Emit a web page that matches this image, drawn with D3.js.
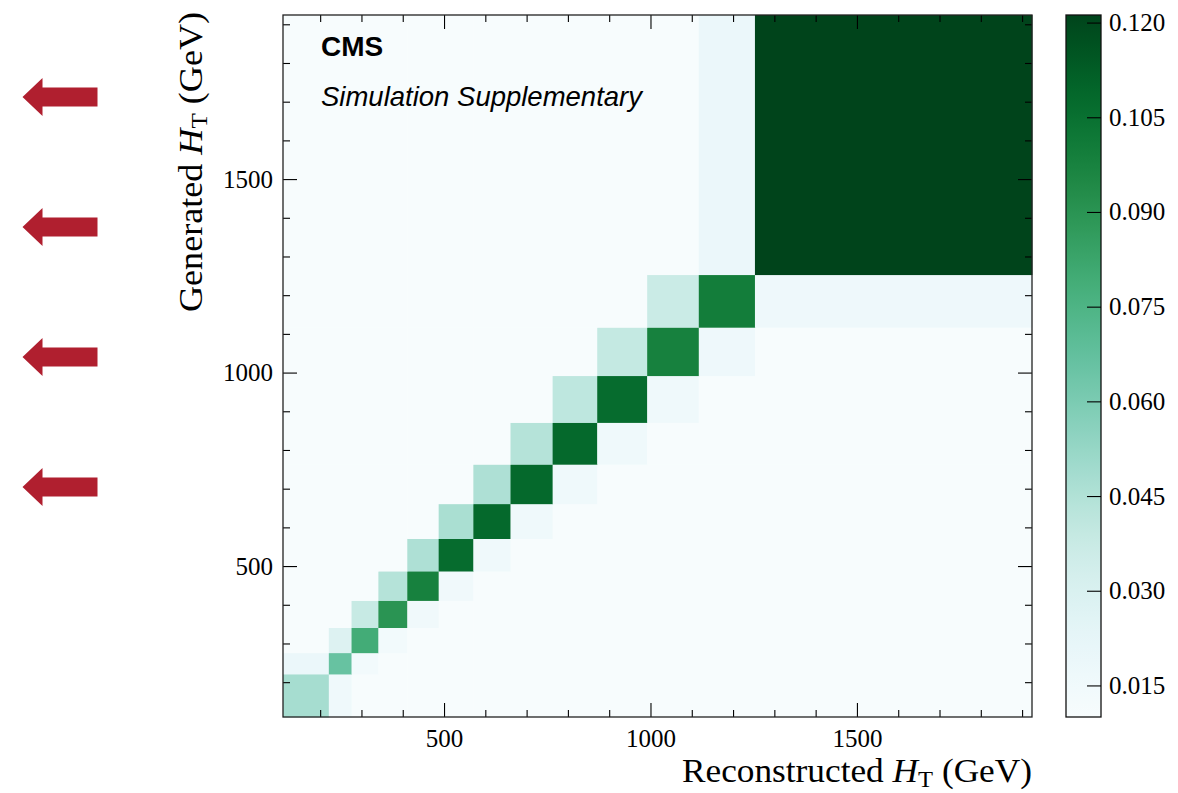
<!DOCTYPE html>
<html>
<head>
<meta charset="utf-8">
<script src="https://cdn.jsdelivr.net/npm/d3@7"></script>
<style>
  body { margin: 0; background: #fff; }
  svg { display: block; }
</style>
</head>
<body>
<div id="plot"></div>
<script>
// Bin edges (GeV), shared by reconstructed (x) and generated (y) H_T
const binEdges = [110, 221, 276, 341, 411, 487, 571, 661, 763, 871, 992, 1117, 1253, 1924];

// Migration matrix
const diagonal     = [0.048, 0.066, 0.079, 0.090, 0.098, 0.107, 0.108, 0.108, 0.108, 0.107, 0.098, 0.100, 0.1212];
const recoBelowGen = [0.019, 0.028, 0.038, 0.044, 0.046, 0.047, 0.046, 0.044, 0.041, 0.039, 0.037, 0.019]; // gen bin i+1, reco bin i
const recoAboveGen = [0.016, 0.014, 0.014, 0.015, 0.015, 0.016, 0.016, 0.016, 0.016, 0.016, 0.017, 0.017]; // gen bin i, reco bin i+1
const floorValue = 0.0100;

const majorTicks = [500, 1000, 1500];
const colorTicks = [0.015, 0.030, 0.045, 0.060, 0.075, 0.090, 0.105, 0.120];
const arrowRows = [97, 227, 357, 487];

// build the cell table
const nBins = binEdges.length - 1;
const cells = [];
for (let g = 0; g < nBins; g++) {
    for (let r = 0; r < nBins; r++) {
        let v = floorValue;
        if (r === g) v = diagonal[g];
        else if (r === g - 1) v = recoBelowGen[r];
        else if (r === g + 1) v = recoAboveGen[g];
        cells.push({ r, g, v });
    }
}

const width = 1178;
const height = 793;
const plotLeft = 283, plotRight = 1032, plotTop = 15, plotBottom = 717;
const cbLeft = 1066, cbRight = 1101;

const svg = d3.select("#plot").append("svg")
    .attr("width", width)
    .attr("height", height)
    .attr("viewBox", [0, 0, width, height]);

const x = d3.scaleLinear()
    .domain([binEdges[0], binEdges[nBins]])
    .range([plotLeft, plotRight]);

const y = d3.scaleLinear()
    .domain([binEdges[0], binEdges[nBins]])
    .range([plotBottom, plotTop]);

const vExtent = d3.extent(cells, d => d.v);
const color = d3.scaleSequential(d3.interpolateBuGn).domain(vExtent);

// heatmap cells
svg.append("g")
    .selectAll("rect")
    .data(cells)
    .join("rect")
    .attr("x", d => x(binEdges[d.r]))
    .attr("y", d => y(binEdges[d.g + 1]))
    .attr("width", d => x(binEdges[d.r + 1]) - x(binEdges[d.r]) + 0.4)
    .attr("height", d => y(binEdges[d.g]) - y(binEdges[d.g + 1]) + 0.4)
    .attr("fill", d => color(d.v));

// ticks, all pointing inwards
const minorTicks = d3.range(200, 2000, 100).filter(t => t % 500 !== 0 && t < binEdges[nBins]);
const tickStyle = g => {
    g.select(".domain").remove();
    g.selectAll(".tick line").attr("stroke", "#000").attr("stroke-width", 1.1);
    g.selectAll("text")
        .attr("fill", "#000")
        .style("font-family", "'Liberation Serif', serif")
        .style("font-size", "25px");
};

svg.append("g")
    .attr("transform", `translate(0,${plotBottom})`)
    .call(d3.axisBottom(x).tickValues(majorTicks).tickSize(-14).tickPadding(12).tickFormat(d3.format("d")))
    .call(tickStyle);
svg.append("g")
    .attr("transform", `translate(0,${plotBottom})`)
    .call(d3.axisBottom(x).tickValues(minorTicks).tickSize(-7).tickFormat(""))
    .call(tickStyle);
svg.append("g")
    .attr("transform", `translate(0,${plotTop})`)
    .call(d3.axisTop(x).tickValues(majorTicks).tickSize(-14).tickFormat(""))
    .call(tickStyle);
svg.append("g")
    .attr("transform", `translate(0,${plotTop})`)
    .call(d3.axisTop(x).tickValues(minorTicks).tickSize(-7).tickFormat(""))
    .call(tickStyle);

svg.append("g")
    .attr("transform", `translate(${plotLeft},0)`)
    .call(d3.axisLeft(y).tickValues(majorTicks).tickSize(-14).tickPadding(10).tickFormat(d3.format("d")))
    .call(tickStyle);
svg.append("g")
    .attr("transform", `translate(${plotLeft},0)`)
    .call(d3.axisLeft(y).tickValues(minorTicks).tickSize(-7).tickFormat(""))
    .call(tickStyle);
svg.append("g")
    .attr("transform", `translate(${plotRight},0)`)
    .call(d3.axisRight(y).tickValues(majorTicks).tickSize(-14).tickFormat(""))
    .call(tickStyle);
svg.append("g")
    .attr("transform", `translate(${plotRight},0)`)
    .call(d3.axisRight(y).tickValues(minorTicks).tickSize(-7).tickFormat(""))
    .call(tickStyle);

// frame
svg.append("rect")
    .attr("x", plotLeft)
    .attr("y", plotTop)
    .attr("width", plotRight - plotLeft)
    .attr("height", plotBottom - plotTop)
    .attr("fill", "none")
    .attr("stroke", "#222")
    .attr("stroke-width", 1.3);

// axis labels
const labelFont = "'Liberation Serif', serif";
function htLabel(sel, prefix) {
    sel.append("tspan").text(prefix + " ");
    sel.append("tspan").attr("font-style", "italic").text("H");
    sel.append("tspan").attr("font-size", "23px").attr("dy", 5).text("T");
    sel.append("tspan").attr("dy", -5).text(" (GeV)");
}

svg.append("text")
    .attr("x", plotRight)
    .attr("y", 782)
    .attr("text-anchor", "end")
    .attr("font-family", labelFont)
    .attr("font-size", "33px")
    .attr("textLength", 350)
    .attr("lengthAdjust", "spacingAndGlyphs")
    .call(htLabel, "Reconstructed");

svg.append("text")
    .attr("transform", `translate(202,12) rotate(-90)`)
    .attr("text-anchor", "end")
    .attr("font-family", labelFont)
    .attr("font-size", "33px")
    .attr("textLength", 300)
    .attr("lengthAdjust", "spacingAndGlyphs")
    .call(htLabel, "Generated");

// CMS label
svg.append("text")
    .attr("x", 321)
    .attr("y", 56)
    .attr("font-family", "'Liberation Sans', Arial, sans-serif")
    .attr("font-weight", "bold")
    .attr("font-size", "28px")
    .text("CMS");
svg.append("text")
    .attr("x", 321)
    .attr("y", 106)
    .attr("font-family", "'Liberation Sans', Arial, sans-serif")
    .attr("font-style", "italic")
    .attr("font-size", "27.5px")
    .text("Simulation Supplementary");

// colour bar
const cb = d3.scaleLinear().domain(vExtent).range([plotBottom, plotTop]);
const grad = svg.append("defs").append("linearGradient")
    .attr("id", "cbgrad")
    .attr("x1", 0).attr("y1", 1).attr("x2", 0).attr("y2", 0);
grad.selectAll("stop")
    .data(d3.range(0, 1.0001, 0.02))
    .join("stop")
    .attr("offset", t => t)
    .attr("stop-color", t => d3.interpolateBuGn(t));

svg.append("rect")
    .attr("x", cbLeft)
    .attr("y", plotTop)
    .attr("width", cbRight - cbLeft)
    .attr("height", plotBottom - plotTop)
    .attr("fill", "url(#cbgrad)")
    .attr("stroke", "#111")
    .attr("stroke-width", 1.3);

svg.append("g")
    .attr("transform", `translate(${cbRight},0)`)
    .call(d3.axisRight(cb).tickValues(colorTicks).tickSize(-14).tickPadding(8).tickFormat(d3.format(".3f")))
    .call(tickStyle);

// red arrows on the left
const arrow = d3.path();
arrow.moveTo(0, 0);
arrow.lineTo(20, -19);
arrow.lineTo(20, -9.5);
arrow.lineTo(75, -9.5);
arrow.lineTo(75, 9.5);
arrow.lineTo(20, 9.5);
arrow.lineTo(20, 19);
arrow.closePath();

svg.append("g")
    .selectAll("path")
    .data(arrowRows)
    .join("path")
    .attr("transform", d => `translate(22.5,${d})`)
    .attr("d", arrow.toString())
    .attr("fill", "#b01f2f");
</script>
</body>
</html>
